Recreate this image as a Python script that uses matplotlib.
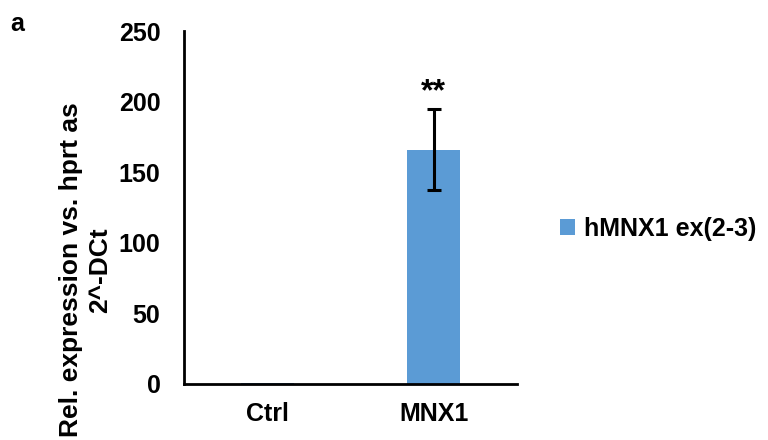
import numpy as np
import matplotlib.pyplot as plt

plt.rcParams['font.family'] = ['Liberation Sans', 'DejaVu Sans']
plt.rcParams['font.weight'] = 'bold'

groups = ['Ctrl', 'MNX1']
expr = [0.5, 166]
expr_err = [0, 28.5]
series_name = 'hMNX1 ex(2-3)'
bar_color = '#5B9BD5'

fig = plt.figure(figsize=(7.68, 4.4), dpi=100)
ax = fig.add_axes([0.2396, 0.1273, 0.6732 - 0.2396, 0.9295 - 0.1273])

x = np.arange(len(groups))
ax.bar(x, expr, width=0.32, color=bar_color, label=series_name, zorder=2)
# error bar only on the MNX1 group
ax.errorbar(x[1], expr[1], yerr=expr_err[1], fmt='none', ecolor='black',
            elinewidth=2.2, capsize=4.8, capthick=2.2, zorder=3)
ax.text(x[1], expr[1] + expr_err[1] + 1.5, '**', ha='center', va='bottom',
        fontsize=23, fontweight='bold')

ax.set_xlim(-0.5, 1.5)
ax.set_ylim(0, 250)
ax.set_yticks([0, 50, 100, 150, 200, 250])
ax.set_xticks(x)
ax.set_xticklabels(groups)
ax.tick_params(axis='both', length=0, labelsize=18)
ax.tick_params(axis='y', pad=17)
ax.tick_params(axis='x', pad=13)

for s in ['top', 'right']:
    ax.spines[s].set_visible(False)
for s in ['left', 'bottom']:
    ax.spines[s].set_linewidth(2)

ax.set_ylabel('Rel. expression vs. hprt as\n2^-DCt', fontsize=19,
              fontweight='bold', linespacing=1.25)
ax.yaxis.set_label_coords(-0.216, 0.323)

fig.legend(loc='center left', bbox_to_anchor=(0.70, 0.48), frameon=False,
           fontsize=18, handlelength=0.6, handleheight=0.6, handletextpad=0.35)

fig.text(0.013, 0.93, 'a', fontsize=18, fontweight='bold')

fig.savefig('out.png', dpi=100)
